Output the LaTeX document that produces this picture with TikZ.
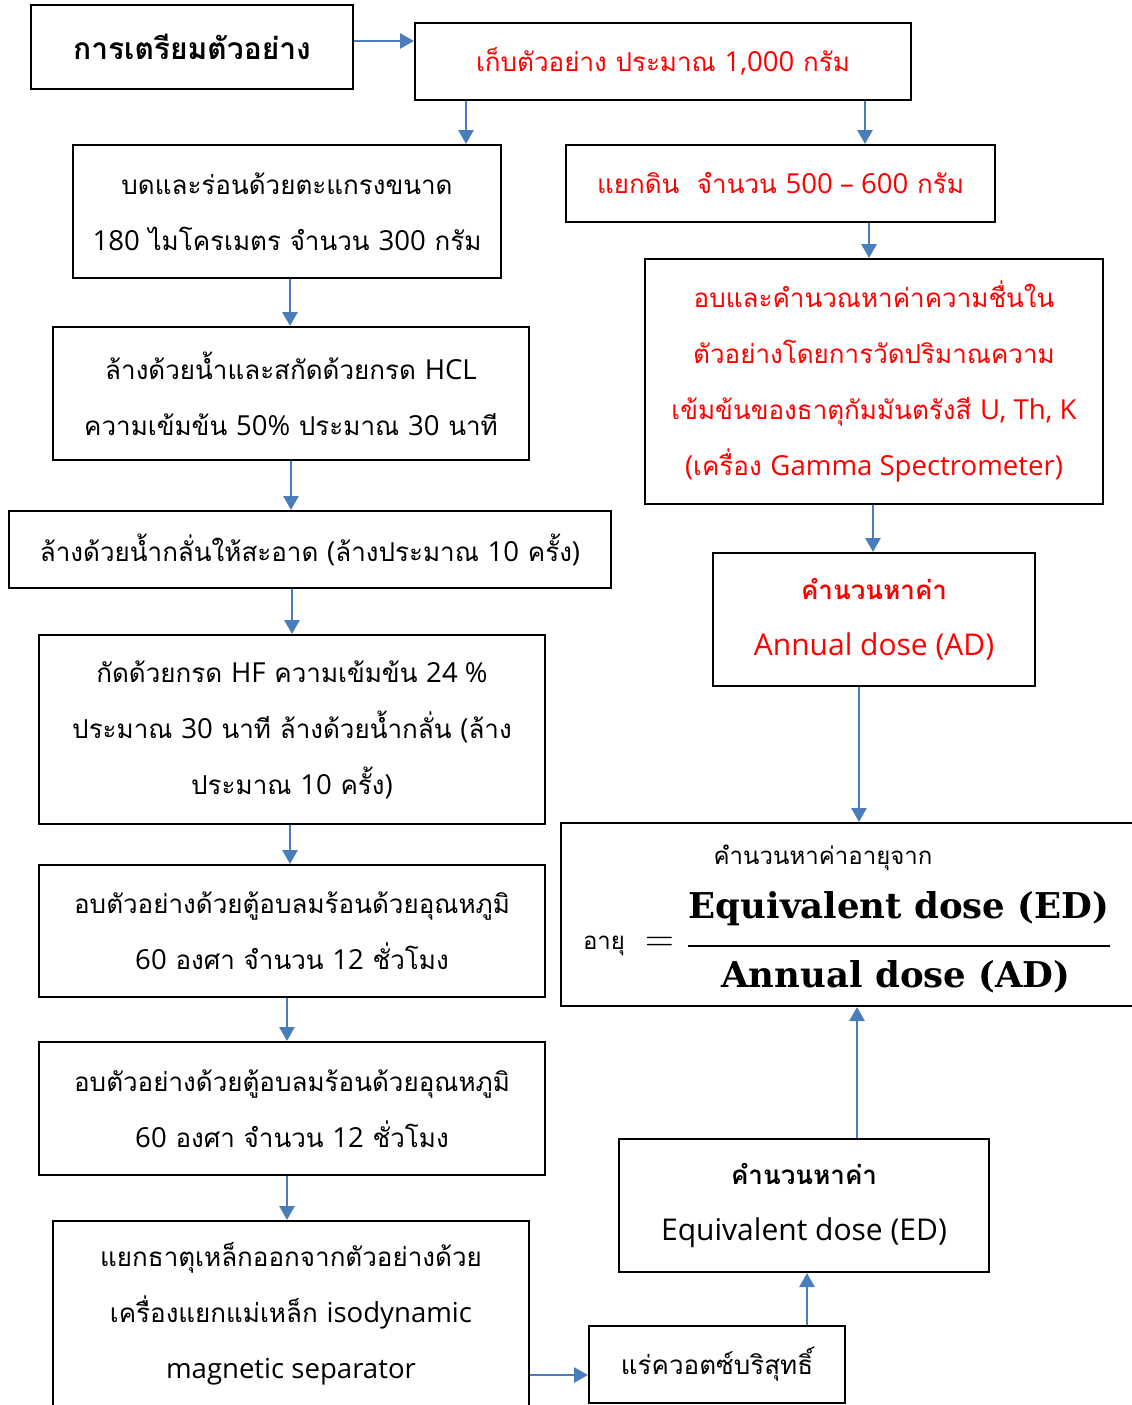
\documentclass[tikz,border=0pt]{standalone}
\usepackage{fontspec}
\usetikzlibrary{arrows.meta}
\newfontfamily\thai[Script=Thai]{Loma}
\newfontfamily\latf[Scale=1.06]{Open Sans}
\newfontfamily\latb{Open Sans}
\newfontfamily\formf{DejaVu Serif}
\newcommand\latx[1]{{\latf #1}}
\definecolor{arrblue}{HTML}{4A7EBB}
\definecolor{txtred}{HTML}{FF0000}
\begin{document}
\begin{tikzpicture}[x=1pt,y=-1pt,
  box/.style={draw=black, line width=2pt, inner sep=0pt, align=center,
    font=\thai\fontsize{26}{56}\selectfont},
  redtxt/.style={text=txtred},
  arr/.style={draw=arrblue, line width=2.8pt, -{Triangle[length=14pt,width=15pt]}},
  plain/.style={inner sep=0pt}]
\useasboundingbox (0,0) rectangle (1132,1405);
\clip (0,0) rectangle (1132,1405);
\fill[white] (0,0) rectangle (1132,1405);

% left column
\node[box, minimum width=322, minimum height=84, font=\thai\bfseries\fontsize{30}{34}\selectfont] (b1) at (192,47) {การเตรียมตัวอย่าง};
\node[box, redtxt, minimum width=496, minimum height=77] (b2) at (663,61.5) {เก็บตัวอย่าง ประมาณ \latx{1,000} กรัม};
\node[box, minimum width=428, minimum height=133] (b3) at (287,211.5) {บดและร่อนด้วยตะแกรงขนาด\\\latx{180} ไมโครเมตร จำนวน \latx{300} กรัม};
\node[box, minimum width=476, minimum height=133] (b10) at (291,393.5) {ล้างด้วยน้ำและสกัดด้วยกรด \latx{HCL}\\ความเข้มข้น \latx{50\%} ประมาณ \latx{30} นาที};
\node[box, minimum width=602, minimum height=77] (b11) at (310,549.5) {ล้างด้วยน้ำกลั่นให้สะอาด \latx{(}ล้างประมาณ \latx{10} ครั้ง\latx{)}};
\node[box, minimum width=506, minimum height=189] (b12) at (292,729.5) {กัดด้วยกรด \latx{HF} ความเข้มข้น \latx{24 \%}\\ประมาณ \latx{30} นาที ล้างด้วยน้ำกลั่น \latx{(}ล้าง\\ประมาณ \latx{10} ครั้ง\latx{)}};
\node[box, minimum width=506, minimum height=132] (b13) at (292,931) {อบตัวอย่างด้วยตู้อบลมร้อนด้วยอุณหภูมิ\\\latx{60} องศา จำนวน \latx{12} ชั่วโมง};
\node[box, minimum width=506, minimum height=133] (b14) at (292,1108.5) {อบตัวอย่างด้วยตู้อบลมร้อนด้วยอุณหภูมิ\\\latx{60} องศา จำนวน \latx{12} ชั่วโมง};
\node[box, minimum width=476, minimum height=186] (b15) at (291,1314) {แยกธาตุเหล็กออกจากตัวอย่างด้วย\\เครื่องแยกแม่เหล็ก \latx{isodynamic}\\\latx{magnetic separator}};

% right column
\node[box, redtxt, minimum width=429, minimum height=77] (b4) at (780.5,183.5) {แยกดิน\ \ จำนวน \latx{500 – 600} กรัม};
\node[box, redtxt, minimum width=458, minimum height=245] (b5) at (874,381.5) {อบและคำนวณหาค่าความชื่นใน\\ตัวอย่างโดยการวัดปริมาณความ\\เข้มข้นของธาตุกัมมันตรังสี \latx{U, Th, K}\\\latx{(}เครื่อง \latx{Gamma Spectrometer)}};
\node[box, redtxt, minimum width=322, minimum height=133] (b6) at (874,619.5) {\textbf{คำนวนหาค่า}\\{\latb\fontsize{30}{56}\selectfont Annual dose (AD)}};
\node[box, minimum width=579, minimum height=183] (b7) at (850.5,914.5) {};
\node[box, minimum width=370, minimum height=133] (b8) at (804,1205.5) {\textbf{คำนวนหาค่า}\\{\latb\fontsize{30}{56}\selectfont Equivalent dose (ED)}};
\node[box, minimum width=256, minimum height=77] (b9) at (717,1364.5) {แร่ควอตซ์บริสุทธิ์};

% formula contents
\node[plain, font=\thai\fontsize{24}{26}\selectfont] (f1) at (823,858) {คำนวนหาค่าอายุจาก};
\node[plain, font=\thai\fontsize{24}{26}\selectfont] (f2) at (604,946) {อายุ};
\node[plain, anchor=base, font=\fontsize{40}{40}\selectfont] (f3) at (659.5,951) {=};
\node[plain, anchor=base, font=\formf\bfseries\fontsize{35.5}{40}\selectfont] (fn) at (899,918) {Equivalent dose (ED)};
\node[plain, anchor=base, font=\formf\bfseries\fontsize{35.5}{40}\selectfont] (fd) at (896,987) {Annual dose (AD)};
\draw[line width=2.8pt] (688,946) -- (1110,946);

% connectors
\draw[arr] (b1.east |- 0,41) -- (b2.west |- 0,41);
\draw[arr] (b2.south -| 466,0) -- (b3.north -| 466,0);
\draw[arr] (b2.south -| 865,0) -- (b4.north -| 865,0);
\draw[arr] (b3.south -| 290,0) -- (b10.north -| 290,0);
\draw[arr] (b4.south -| 869,0) -- (b5.north -| 869,0);
\draw[arr] (b10.south -| 291,0) -- (b11.north -| 291,0);
\draw[arr] (b5.south -| 873,0) -- (b6.north -| 873,0);
\draw[arr] (b11.south -| 292,0) -- (b12.north -| 292,0);
\draw[arr] (b6.south -| 859,0) -- (b7.north -| 859,0);
\draw[arr] (b12.south -| 290,0) -- (b13.north -| 290,0);
\draw[arr] (b13.south -| 287,0) -- (b14.north -| 287,0);
\draw[arr] (b14.south -| 287,0) -- (b15.north -| 287,0);
\draw[arr] (b15.east |- 0,1375) -- (b9.west |- 0,1375);
\draw[arr] (b9.north -| 807,0) -- (b8.south -| 807,0);
\draw[arr] (b8.north -| 857,0) -- (b7.south -| 857,0);
\end{tikzpicture}
\end{document}
